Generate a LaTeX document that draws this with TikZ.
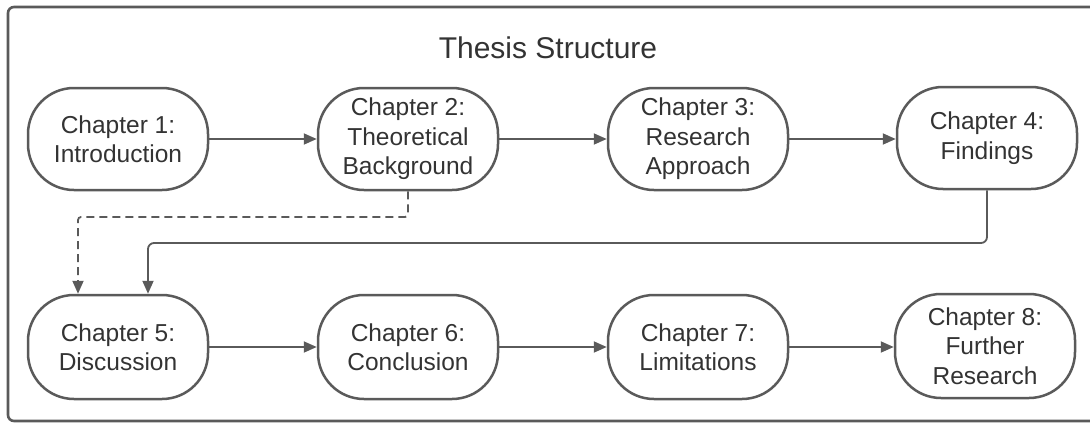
\documentclass[tikz,border=0pt]{standalone}
\usepackage{fontspec}
\setmainfont{Liberation Sans}
\usetikzlibrary{arrows.meta}
\definecolor{linegray}{HTML}{5A5A5A}
\definecolor{textgray}{HTML}{333333}
\begin{document}
\begin{tikzpicture}[x=1pt,y=-1pt,
  chapter/.style={draw=linegray, line width=2.5pt, rounded corners=46pt,
    minimum width=180pt, minimum height=102pt, inner sep=0pt, align=center,
    text=textgray, font=\fontsize{24.5}{29.5}\selectfont},
  flow/.style={draw=linegray, line width=1.8pt,
    -{Triangle[length=13pt,width=11pt]}},
  link/.style={flow, dash pattern=on 8pt off 5pt}]
  \useasboundingbox (0,0) rectangle (1090,423);
  % outer frame (right side runs past the page edge)
  \draw[linegray, line width=2.6pt, rounded corners=6pt] (8,7) rectangle (1100,421);
  \node[anchor=base, text=textgray, font=\fontsize{30}{36}\selectfont] (title) at (548,58) {Thesis Structure};
  % first row
  \node[chapter] (c1) at (118,139) {Chapter 1:\\Introduction};
  \node[chapter] (c2) at (408,139) {Chapter 2:\\Theoretical\\Background};
  \node[chapter] (c3) at (698,139) {Chapter 3:\\Research\\Approach};
  \node[chapter] (c4) at (987,138) {Chapter 4:\\Findings};
  % second row
  \node[chapter, minimum height=104pt] (c5) at (118,347) {Chapter 5:\\Discussion};
  \node[chapter, minimum height=104pt] (c6) at (408,347) {Chapter 6:\\Conclusion};
  \node[chapter, minimum height=104pt] (c7) at (698,347) {Chapter 7:\\Limitations};
  \node[chapter, minimum height=104pt] (c8) at (985,346) {Chapter 8:\\Further\\Research};
  % sequence within rows
  \draw[flow] (c1) -- (c2);
  \draw[flow] (c2) -- (c3);
  \draw[flow] (c3.east) -- (c3.east -| c4.west);
  \draw[flow] (c5) -- (c6);
  \draw[flow] (c6) -- (c7);
  \draw[flow] (c7.east) -- (c7.east -| c8.west);
  % links down to the discussion
  \draw[link, rounded corners=3pt] (c2.south) -- (408,217) -- (78,217) -- (c5.north -| 78,0);
  \draw[flow, rounded corners=6pt] (c4.south) -- (987,243) -- (148,243) -- (c5.north -| 148,0);
\end{tikzpicture}
\end{document}
